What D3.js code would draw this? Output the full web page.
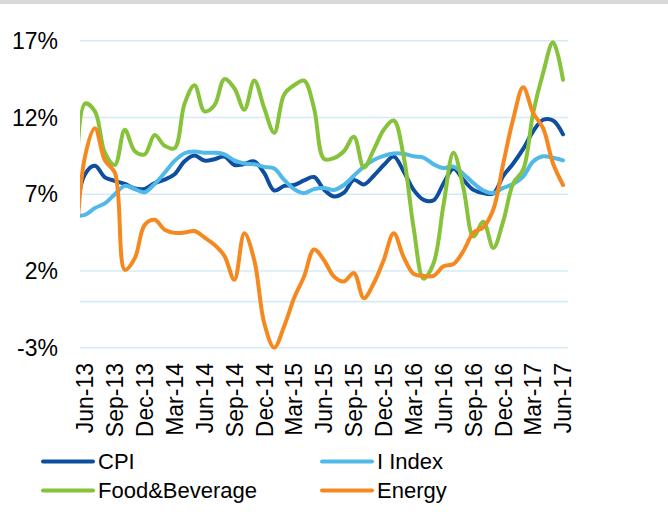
<!DOCTYPE html>
<html>
<head>
<meta charset="utf-8">
<script src="https://cdn.jsdelivr.net/npm/d3@7/dist/d3.min.js"></script>
<style>
  body { margin: 0; background: #fff; }
  svg { display: block; font-family: "Liberation Sans", Arial, sans-serif; }
</style>
</head>
<body>
<div id="chart"></div>
<script>
// monthly, May-13 sits just left of the plot and gets clipped
const months = [
  "May-13", "Jun-13", "Jul-13", "Aug-13", "Sep-13", "Oct-13", "Nov-13", "Dec-13",
  "Jan-14", "Feb-14", "Mar-14", "Apr-14", "May-14", "Jun-14", "Jul-14", "Aug-14", "Sep-14", "Oct-14", "Nov-14", "Dec-14",
  "Jan-15", "Feb-15", "Mar-15", "Apr-15", "May-15", "Jun-15", "Jul-15", "Aug-15", "Sep-15", "Oct-15", "Nov-15", "Dec-15",
  "Jan-16", "Feb-16", "Mar-16", "Apr-16", "May-16", "Jun-16", "Jul-16", "Aug-16", "Sep-16", "Oct-16", "Nov-16", "Dec-16",
  "Jan-17", "Feb-17", "Mar-17", "Apr-17", "May-17", "Jun-17"
];
const xTicks = ["Jun-13", "Sep-13", "Dec-13", "Mar-14", "Jun-14", "Sep-14", "Dec-14", "Mar-15", "Jun-15",
  "Sep-15", "Dec-15", "Mar-16", "Jun-16", "Sep-16", "Dec-16", "Mar-17", "Jun-17"];
const yTicks = [-3, 2, 7, 12, 17];

const cpi = [5.4, 8.3, 8.85, 8.1, 7.87, 7.67, 7.37, 7.35, 7.72, 7.95, 8.3, 9.15, 9.52, 9.19, 9.28, 9.45, 8.9, 8.97, 9.13,
  8.37, 7.24, 7.54, 7.6, 7.9, 8.12, 7.3, 6.85, 7.1, 7.93, 7.63, 8.2, 8.9, 9.45, 8.48, 7.28, 6.63, 6.6, 7.7, 8.65,
  7.93, 7.28, 7.07, 7.05, 8.2, 9.0, 9.95, 11.1, 11.85, 11.8, 10.9];
const iIndex = [5.6, 5.65, 6.1, 6.4, 7.0, 7.54, 7.33, 7.13, 7.67, 8.4, 9.17, 9.67, 9.78, 9.7, 9.7, 9.6, 9.2, 9.0, 8.95,
  8.78, 8.67, 7.93, 7.33, 7.07, 7.33, 7.4, 7.28, 7.6, 8.2, 8.8, 9.23, 9.5, 9.65, 9.63, 9.47, 9.39, 8.95, 8.7, 8.8,
  8.32, 7.72, 7.24, 7.07, 7.41, 7.67, 8.15, 9.13, 9.47, 9.37, 9.2];
const foodBev = [2.5, 12.9, 12.4, 9.7, 8.9, 11.2, 9.8, 9.6, 10.85, 10.15, 10.0, 12.9, 14.1, 12.4, 12.8, 14.5, 13.9, 12.5,
  14.4, 12.6, 11.0, 13.5, 14.1, 14.4, 12.6, 9.3, 9.35, 9.8, 10.75, 8.74, 9.9, 11.2, 11.8, 9.45, 4.8, 1.5, 2.5, 6.3,
  9.7, 7.4, 4.24, 5.2, 3.5, 5.25, 7.7, 8.6, 12.3, 14.9, 16.9, 14.45];
const energy = [2.5, 9.45, 11.3, 9.2, 8.4, 2.07, 2.83, 5.0, 5.33, 4.68, 4.48, 4.5, 4.6, 4.18, 3.7, 2.98, 1.42, 4.45, 2.7,
  -1.4, -3.0, -1.6, 0.23, 1.64, 3.4, 2.7, 1.64, 1.31, 1.86, 0.23, 1.2, 2.72, 4.46, 2.9, 1.81, 1.68, 1.68, 2.3, 2.45,
  3.3, 4.5, 4.85, 6.0, 9.0, 11.9, 13.97, 12.3, 11.3, 9.0, 7.6];

const series = [
  { name: "CPI", color: "#0d4e9e", values: cpi },
  { name: "I Index", color: "#50b9ea", values: iIndex },
  { name: "Food&Beverage", color: "#86c23a", values: foodBev },
  { name: "Energy", color: "#f5891f", values: energy }
];

const W = 668, H = 515;
const plot = { left: 80, right: 568, top: 40.7, bottom: 347.7 };

const svg = d3.select("#chart").append("svg")
  .attr("width", W)
  .attr("height", H);

// grey strip at the very top
svg.append("rect").attr("x", 0).attr("y", 0).attr("width", W).attr("height", 4).attr("fill", "#d9d9d9");

const x = d3.scaleLinear().domain([0.5, months.length - 0.5]).range([plot.left, plot.right]);
const y = d3.scaleLinear().domain([-3, 17]).range([plot.bottom, plot.top]);

// gridlines + zero line
svg.append("g").selectAll("line")
  .data(yTicks.concat([0]))
  .enter().append("line")
  .attr("x1", plot.left).attr("x2", plot.right)
  .attr("y1", d => y(d)).attr("y2", d => y(d))
  .attr("stroke", "#d3ebf8")
  .attr("stroke-width", 1.6);

svg.append("g").selectAll("text")
  .data(yTicks)
  .enter().append("text")
  .attr("x", 58)
  .attr("y", d => y(d))
  .attr("dy", "0.36em")
  .attr("text-anchor", "end")
  .attr("font-size", 23)
  .attr("fill", "#000")
  .text(d => d + "%");

svg.append("g").selectAll("text")
  .data(xTicks)
  .enter().append("text")
  .attr("transform", d => `translate(${x(months.indexOf(d))},363) rotate(-90)`)
  .attr("dy", "0.36em")
  .attr("text-anchor", "end")
  .attr("font-size", 23)
  .attr("fill", "#000")
  .text(d => d);

svg.append("clipPath").attr("id", "plotClip")
  .append("rect")
  .attr("x", plot.left).attr("y", 0)
  .attr("width", plot.right - plot.left).attr("height", H);

const line = d3.line()
  .x((d, i) => x(i))
  .y(d => y(d))
  .curve(d3.curveCatmullRom);

svg.append("g").attr("clip-path", "url(#plotClip)")
  .selectAll("path")
  .data(series)
  .enter().append("path")
  .attr("d", d => line(d.values))
  .attr("fill", "none")
  .attr("stroke", d => d.color)
  .attr("stroke-width", 4)
  .attr("stroke-linejoin", "round")
  .attr("stroke-linecap", "round");

// legend, 2 x 2
const legend = svg.append("g").selectAll("g")
  .data(series)
  .enter().append("g")
  .attr("transform", (d, i) => `translate(${i % 2 === 0 ? 43 : 322},${i < 2 ? 461.5 : 490.5})`);

legend.append("line")
  .attr("x1", 0).attr("x2", 50)
  .attr("stroke", d => d.color)
  .attr("stroke-width", 4)
  .attr("stroke-linecap", "round");

legend.append("text")
  .attr("x", 55)
  .attr("dy", "0.36em")
  .attr("font-size", 22)
  .attr("fill", "#000")
  .text(d => d.name);
</script>
</body>
</html>
